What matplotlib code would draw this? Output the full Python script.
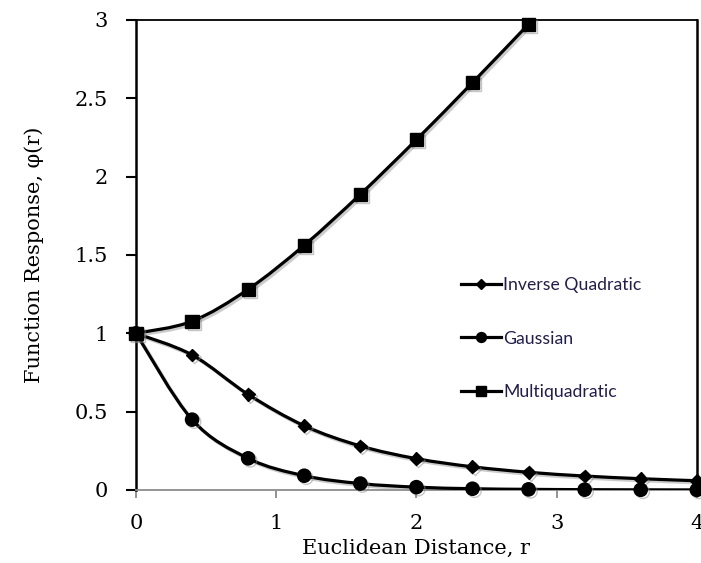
import numpy as np
import matplotlib
matplotlib.use("Agg")
import matplotlib.pyplot as plt
from matplotlib.path import Path
from matplotlib.patches import PathPatch
import matplotlib.patheffects as pe

# data
r = [0.0, 0.4, 0.8, 1.2, 1.6, 2.0, 2.4, 2.8, 3.2, 3.6, 4.0]
inverse_quadratic = [1.0, 0.862, 0.610, 0.410, 0.281, 0.200, 0.148, 0.113, 0.089, 0.072, 0.059]
gaussian = [1.0, 0.449, 0.202, 0.091, 0.041, 0.018, 0.008, 0.004, 0.002, 0.001, 0.0003]
r_multi = [0.0, 0.4, 0.8, 1.2, 1.6, 2.0, 2.4, 2.8]
multiquadratic = [1.0, 1.077, 1.281, 1.562, 1.887, 2.236, 2.600, 2.973]

x_ticks = [0, 1, 2, 3, 4]
y_ticks = [0, 0.5, 1, 1.5, 2, 2.5, 3]
y_tick_labels = ["0", "0.5", "1", "1.5", "2", "2.5", "3"]


def smooth_path(xs, ys):
    # excel style smoothed line: cubic bezier through every point
    xs = np.asarray(xs, float)
    ys = np.asarray(ys, float)
    pts = np.column_stack([xs, ys])
    n = len(pts)
    verts = [pts[0]]
    codes = [Path.MOVETO]
    for i in range(n - 1):
        p0 = pts[i - 1] if i > 0 else pts[i]
        p1 = pts[i]
        p2 = pts[i + 1]
        p3 = pts[i + 2] if i + 2 < n else pts[i + 1]
        c1 = p1 + (p2 - p0) / 6.0
        c2 = p2 - (p3 - p1) / 6.0
        verts += [c1, c2, p2]
        codes += [Path.CURVE4] * 3
    return Path(verts, codes)


fig = plt.figure(figsize=(7.01, 5.63), dpi=100)
ax = fig.add_axes([0.194, 0.1297, 0.8, 0.8348])

shadow = [pe.SimpleLineShadow(offset=(1.5, -1.5), shadow_color="0.6", alpha=0.5), pe.Normal()]

series = [
    (r, inverse_quadratic, "D", 6.5, "Inverse Quadratic"),
    (r, gaussian, "o", 9.5, "Gaussian"),
    (r_multi, multiquadratic, "s", 9.5, "Multiquadratic"),
]

handles = []
for xs, ys, mk, ms, name in series:
    patch = PathPatch(smooth_path(xs, ys), facecolor="none", edgecolor="black",
                      linewidth=2.3, zorder=3, capstyle="round")
    patch.set_path_effects(shadow)
    ax.add_patch(patch)
    pts = ax.plot(xs, ys, linestyle="none", marker=mk, markersize=ms, color="black",
                  zorder=4, clip_on=False)[0]
    pts.set_path_effects([pe.SimpleLineShadow(offset=(1.5, -1.5), shadow_color="0.55", alpha=0.5), pe.Normal()])
    h, = ax.plot([], [], color="black", linewidth=2.3, marker=mk, markersize=ms * 0.75, label=name)
    handles.append(h)

ax.set_xlim(0, 4)
ax.set_ylim(0, 3)
ax.set_xticks(x_ticks)
ax.set_xticklabels([str(t) for t in x_ticks])
ax.set_yticks(y_ticks)
ax.set_yticklabels(y_tick_labels)

serif = "DejaVu Serif"
for lab in ax.get_xticklabels() + ax.get_yticklabels():
    lab.set_fontfamily(serif)
    lab.set_fontsize(15)

ax.tick_params(axis="y", direction="out", length=7.5, width=1.5, color="black", pad=13)
ax.tick_params(axis="x", direction="out", length=6, width=1.2, color="0.5", pad=11.5)

ax.spines["left"].set_linewidth(1.8)
ax.spines["right"].set_linewidth(1.8)
ax.spines["top"].set_linewidth(1.3)
ax.spines["bottom"].set_linewidth(1.3)
ax.spines["bottom"].set_color("0.55")

ax.set_xlabel("Euclidean Distance, r", fontfamily=serif, fontsize=15, labelpad=4)
ax.set_ylabel("Function Response, \u03c6(r)", fontfamily=serif, fontsize=15, labelpad=22)

leg = ax.legend(handles=handles, loc="upper left", bbox_to_anchor=(0.579, 0.453),
                frameon=False, borderpad=0, borderaxespad=0, handlelength=2.3,
                handletextpad=0.1, labelspacing=2.13,
                prop={"family": "Lato", "size": 12.7}, labelcolor="#221d4a")

fig.savefig("out.png", dpi=100)
